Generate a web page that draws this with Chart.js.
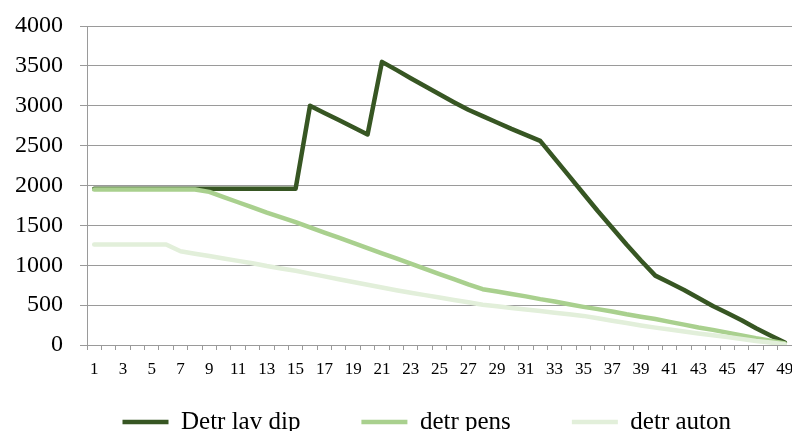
<!DOCTYPE html>
<html>
  <head>
    <title>Detr lav dip / detr pens / detr auton</title>
    <script src="https://cdn.jsdelivr.net/npm/chart.js@4.4.1/dist/chart.umd.min.js"></script>
    <style>
      body { margin: 0; background: #fff; }
      #chart { display: block; }
    </style>
  </head>
  <body>
    <canvas id="chart" width="792" height="431"></canvas>
    <script>
// categories along the x-axis
var periods = ['1','2','3','4','5','6','7','8','9','10','11','12','13','14','15','16','17','18','19','20',
  '21','22','23','24','25','26','27','28','29','30','31','32','33','34','35','36','37','38','39','40',
  '41','42','43','44','45','46','47','48','49'];

var yTicks = [0, 500, 1000, 1500, 2000, 2500, 3000, 3500, 4000];

var lavDip = [1960, 1960, 1960, 1960, 1960, 1960, 1960, 1960, 1960, 1960, 1960, 1960, 1960, 1960, 1960,
  3000, 2910, 2820, 2730, 2640, 3550, 3450, 3345, 3245, 3145, 3045, 2950, 2870, 2790, 2710, 2635, 2560,
  2340, 2120, 1900, 1680, 1470, 1260, 1060, 870, 780, 690, 590, 490, 400, 310, 210, 120, 30];

var pens = [1950, 1950, 1950, 1950, 1950, 1950, 1950, 1950, 1920, 1855, 1790, 1725, 1660, 1600, 1540,
  1475, 1410, 1345, 1280, 1215, 1150, 1085, 1020, 955, 890, 825, 760, 700, 670, 640, 610, 575, 545,
  510, 478, 450, 420, 385, 355, 325, 290, 255, 220, 190, 155, 120, 85, 55, 20];

var auton = [1260, 1260, 1260, 1260, 1260, 1260, 1175, 1145, 1115, 1085, 1055, 1025, 990, 960, 930,
  895, 860, 825, 790, 755, 720, 687, 656, 625, 595, 565, 535, 505, 485, 465, 445, 425, 405, 385, 365,
  335, 305, 275, 245, 218, 195, 170, 145, 122, 100, 75, 50, 30, 10];

var FONT = 'Liberation Serif';
var LEGEND_PAD = 61;
var LEGEND_FONT = 25;

function line(label, data, color, order) {
  return {
    label: label,
    data: data,
    borderColor: color,
    backgroundColor: color,
    borderWidth: 4.5,
    borderCapStyle: 'round',
    borderJoinStyle: 'round',
    pointRadius: 0,
    pointHoverRadius: 0,
    tension: 0,
    fill: false,
    order: order
  };
}

Chart.register({
  id: 'whiteBg',
  beforeDraw: function (c) {
    var ctx = c.ctx;
    ctx.save();
    ctx.fillStyle = '#fff';
    ctx.fillRect(0, 0, c.width, c.height);
    ctx.restore();
  }
});

// put the legend row where Excel had it (text centred near y=421, starting at x~122)
Chart.register({
  id: 'legendSpot',
  afterLayout: function (c) {
    var lg = c.legend;
    if (!lg) return;
    var w = lg.width, h = lg.height;
    lg.left = 61.5;
    lg.right = lg.left + w;
    lg.top = 422 - LEGEND_PAD - LEGEND_FONT / 2;
    lg.bottom = lg.top + h;
  }
});

var chart = new Chart(document.getElementById('chart'), {
  type: 'line',
  data: {
    labels: periods,
    datasets: [
      line('Detr lav dip', lavDip, '#375623', 3),
      line('detr pens', pens, '#a9d08e', 2),
      line('detr auton', auton, '#e2efda', 1)
    ]
  },
  options: {
    responsive: false,
    animation: false,
    layout: { padding: { top: 26, left: 0, right: 0, bottom: -44 } },
    plugins: {
      tooltip: { enabled: false },
      legend: {
        position: 'bottom',
        align: 'start',
        labels: {
          usePointStyle: true,
          pointStyle: 'line',
          pointStyleWidth: 46,
          padding: LEGEND_PAD,
          color: '#000',
          font: { family: FONT, size: LEGEND_FONT },
          sort: function (a, b) { return a.datasetIndex - b.datasetIndex; }
        }
      }
    },
    scales: {
      x: {
        offset: true,
        grid: {
          offset: true,
          drawOnChartArea: false,
          drawTicks: true,
          tickLength: 5,
          color: '#9a9a9a'
        },
        border: { color: '#9a9a9a' },
        ticks: {
          autoSkip: false,
          maxRotation: 0,
          padding: 9,
          color: '#000',
          font: { family: FONT, size: 17 },
          callback: function (v, i) { return i % 2 === 0 ? periods[i] : ''; }
        },
        afterFit: function (s) { s.height = 34; s.paddingLeft = 0; s.paddingRight = 0; }
      },
      y: {
        min: 0,
        max: 4000,
        afterBuildTicks: function (s) { s.ticks = yTicks.map(function (v) { return { value: v }; }); },
        grid: { color: '#9a9a9a', tickLength: 7 },
        border: { color: '#9a9a9a' },
        ticks: {
          padding: 17,
          color: '#000',
          font: { family: FONT, size: 24 },
          callback: function (v) { return String(v); }
        },
        afterFit: function (s) { s.width = 87; s.paddingTop = 0; s.paddingBottom = 0; }
      }
    }
  }
});
    </script>
  </body>
</html>
